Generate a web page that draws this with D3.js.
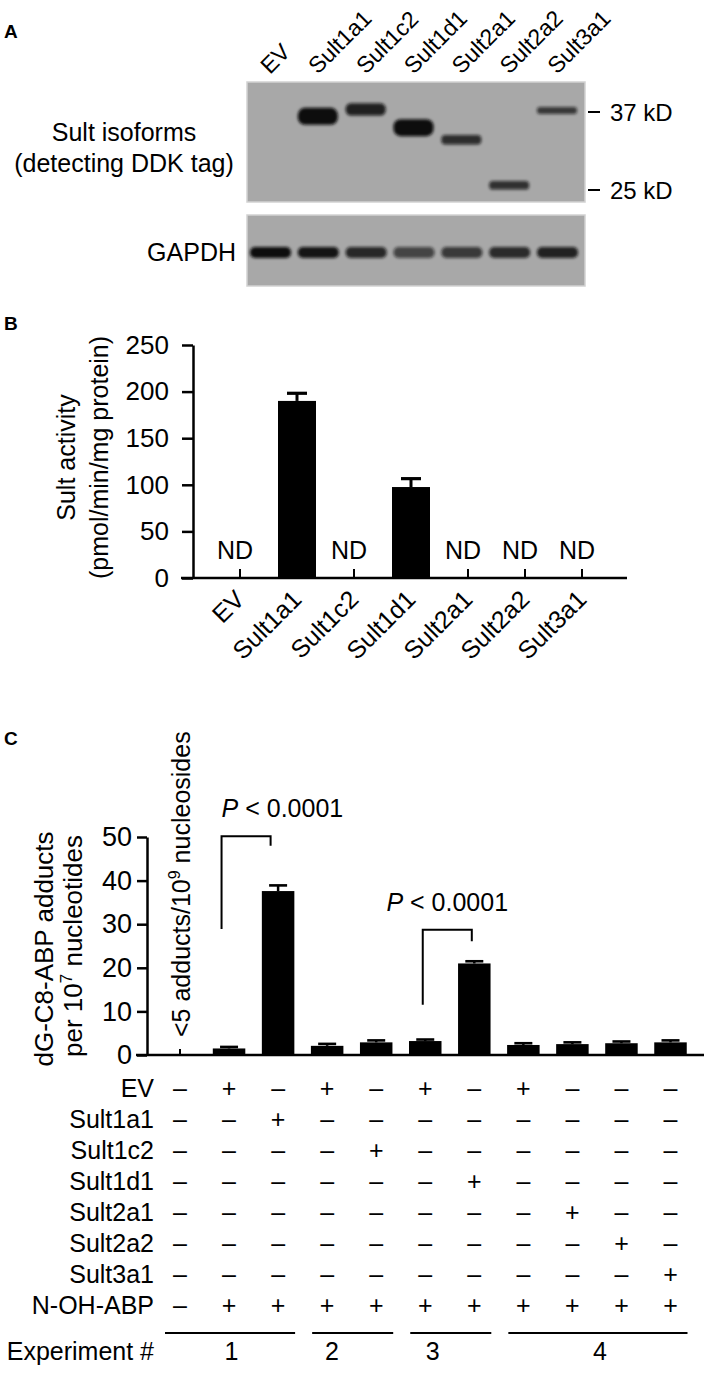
<!DOCTYPE html>
<html><head><meta charset="utf-8">
<script src="https://cdn.jsdelivr.net/npm/d3@7"></script>
<style>
body{margin:0;background:#fff}
svg{display:block}
text{font-family:"Liberation Sans",Arial,Helvetica,sans-serif;fill:#000}
</style>
</head><body>
<svg id="c" width="709" height="1379"></svg>
<script>
// ---------------- DATA ----------------
// Panel A (western blot)
const lanes = ["EV","Sult1a1","Sult1c2","Sult1d1","Sult2a1","Sult2a2","Sult3a1"];
const ddkBandKDa = [null, 36.2, 37.5, 34.2, 32.2, 25.6, 37.3];
const ddkBandSignal = [0, 1.0, 0.72, 1.0, 0.55, 0.5, 0.4];
const gapdhSignal = [1.0, 0.95, 0.82, 0.62, 0.7, 0.8, 0.86];
const markerKDa = [37, 25];
const markerLabels = ["37 kD", "25 kD"];

// Panel B (Sult activity)
const bCategories = ["EV","Sult1a1","Sult1c2","Sult1d1","Sult2a1","Sult2a2","Sult3a1"];
const bActivity = [null, 190, null, 97.6, null, null, null];
const bError = [null, 8.2, null, 9, null, null, null];
const bTicks = [0, 50, 100, 150, 200, 250];
const ndLabel = "ND";

// Panel C (adducts)
const cAdducts = [null, 1.5, 37.6, 2.1, 2.9, 3.2, 21.0, 2.3, 2.5, 2.7, 2.9];
const cError = [null, 0.35, 1.3, 0.45, 0.45, 0.35, 0.5, 0.4, 0.4, 0.4, 0.45];
const cTicks = [0, 10, 20, 30, 40, 50];
const treatmentRows = ["EV","Sult1a1","Sult1c2","Sult1d1","Sult2a1","Sult2a2","Sult3a1","N-OH-ABP"];
const treatmentMatrix = [
  "-+-+-+-+---",
  "--+--------",
  "----+------",
  "------+----",
  "--------+--",
  "---------+-",
  "----------+",
  "-++++++++++"
];
const experimentGroups = [[0,2],[3,4],[5,6],[7,10]];
const experimentLabels = ["1","2","3","4"];
const experimentLabelAt = [1.05, 3.1, 5.15, 8.56];
const comparisons = [
  {from:1, to:2, top:50.2, leftEnd:28.9, rightEnd:48.0, label:"< 0.0001"},
  {from:5, to:6, top:28.7, leftEnd:11.5, rightEnd:26.1, label:"< 0.0001"}
];
const belowDetection = ["<5 adducts/10", "9", " nucleosides"];

// ---------------- DRAW ----------------
const svg = d3.select("#c");
const defs = svg.append("defs");
defs.append("filter").attr("id","blur")
  .attr("x","-30%").attr("y","-80%").attr("width","160%").attr("height","260%")
  .append("feGaussianBlur").attr("stdDeviation",1.5);

function panelLetter(t, y){
  svg.append("text").attr("x",4).attr("y",y).attr("font-size",19).attr("font-weight","bold").text(t);
}

// ===== Panel A =====
panelLetter("A", 38);
const gA = svg.append("g");
const laneX = d3.scalePoint().domain(lanes).range([270, 557]);
const kda = d3.scaleLog().domain([37,25]).range([112,190]);
const blotX = [247, 585];
const blots = [[82,202],[215,286]];
blots.forEach(b=>{
  gA.append("rect").attr("x",blotX[0]).attr("y",b[0]).attr("width",blotX[1]-blotX[0]).attr("height",b[1]-b[0])
    .attr("fill","#a8a8a8").attr("stroke","#d2d2d2").attr("stroke-width",1.5);
});
const thick = d3.scaleLinear().domain([0.4,1]).range([7,17]);
const dark = d3.scaleLinear().domain([0.4,1]).range([0.72,1]);
const ddk = lanes.map((l,i)=>({lane:l, k:ddkBandKDa[i], s:ddkBandSignal[i]})).filter(d=>d.k);
gA.selectAll(".ddk").data(ddk).join("rect").attr("class","ddk")
  .attr("x",d=>laneX(d.lane)-20).attr("width",40)
  .attr("y",d=>kda(d.k)-thick(d.s)/2).attr("height",d=>thick(d.s))
  .attr("rx",d=>thick(d.s)/2.4)
  .attr("fill","#0d0d0d").attr("opacity",d=>dark(d.s)).attr("filter","url(#blur)");
const gapY = (blots[1][0]+blots[1][1])/2 + 2;
const gOp = d3.scaleLinear().domain([0.6,1]).range([0.62,1]);
gA.selectAll(".gap").data(lanes.map((l,i)=>({lane:l, s:gapdhSignal[i]}))).join("rect").attr("class","gap")
  .attr("x",d=>laneX(d.lane)-20).attr("width",41)
  .attr("y",gapY-5.5).attr("height",11).attr("rx",5)
  .attr("fill","#101010").attr("opacity",d=>gOp(d.s)).attr("filter","url(#blur)");
// markers
markerKDa.forEach((m,i)=>{
  gA.append("line").attr("x1",588).attr("x2",600).attr("y1",kda(m)).attr("y2",kda(m)).attr("stroke","#000").attr("stroke-width",2);
  gA.append("text").attr("x",610).attr("y",kda(m)+8.5).attr("font-size",24).text(markerLabels[i]);
});
// lane labels
gA.selectAll(".lane").data(lanes).join("text").attr("class","lane")
  .attr("transform",d=>`translate(${laneX(d)},75) rotate(-45)`)
  .attr("font-size",23).text(d=>d);
gA.append("text").attr("x",124).attr("y",141).attr("text-anchor","middle").attr("font-size",25).text("Sult isoforms");
gA.append("text").attr("x",124).attr("y",172).attr("text-anchor","middle").attr("font-size",25).text("(detecting DDK tag)");
gA.append("text").attr("x",236).attr("y",gapY+8).attr("text-anchor","end").attr("font-size",25).text("GAPDH");

// ===== Panel B =====
panelLetter("B", 330);
const gB = svg.append("g");
const xB = d3.scalePoint().domain(bCategories).range([240, 582]);
const yB = d3.scaleLinear().domain([0,250]).range([578,345]);
const axB = 193;
const yAxB = gB.append("g").attr("transform",`translate(${axB},0)`)
  .call(d3.axisLeft(yB).tickValues(bTicks).tickSize(11).tickPadding(13).tickSizeOuter(0));
yAxB.selectAll("path,line").attr("stroke","#000").attr("stroke-width",2.5);
yAxB.selectAll("text").attr("font-size",26).attr("font-family",null).attr("fill","#000");
gB.append("line").attr("x1",axB-12).attr("x2",627).attr("y1",yB(0)).attr("y2",yB(0)).attr("stroke","#000").attr("stroke-width",2.5);
gB.selectAll(".xt").data(bCategories).join("line").attr("class","xt")
  .attr("x1",d=>xB(d)).attr("x2",d=>xB(d)).attr("y1",yB(0)).attr("y2",yB(0)-9).attr("stroke","#000").attr("stroke-width",2);
const bData = bCategories.map((c,i)=>({c, v:bActivity[i], e:bError[i]}));
gB.selectAll(".bar").data(bData.filter(d=>d.v!=null)).join("rect").attr("class","bar")
  .attr("x",d=>xB(d.c)-19).attr("width",38).attr("y",d=>yB(d.v)).attr("height",d=>yB(0)-yB(d.v)).attr("fill","#000");
bData.filter(d=>d.v!=null).forEach(d=>{
  gB.append("line").attr("x1",xB(d.c)).attr("x2",xB(d.c)).attr("y1",yB(d.v)).attr("y2",yB(d.v+d.e)).attr("stroke","#000").attr("stroke-width",3);
  gB.append("line").attr("x1",xB(d.c)-10).attr("x2",xB(d.c)+10).attr("y1",yB(d.v+d.e)).attr("y2",yB(d.v+d.e)).attr("stroke","#000").attr("stroke-width",3.2);
});
gB.selectAll(".nd").data(bData.filter(d=>d.v==null)).join("text").attr("class","nd")
  .attr("x",d=>xB(d.c)-5).attr("y",yB(0)-19).attr("text-anchor","middle").attr("font-size",25).text(ndLabel);
gB.selectAll(".xl").data(bCategories).join("text").attr("class","xl")
  .attr("transform",d=>`translate(${xB(d)+6},${yB(0)+23}) rotate(-45)`)
  .attr("text-anchor","end").attr("font-size",25).text(d=>d);
const ymB = (yB(0)+yB(250))/2 - 4;
gB.append("text").attr("transform",`translate(75,${ymB}) rotate(-90)`).attr("text-anchor","middle").attr("font-size",25).text("Sult activity");
gB.append("text").attr("transform",`translate(108,${ymB}) rotate(-90)`).attr("text-anchor","middle").attr("font-size",25).text("(pmol/min/mg protein)");

// ===== Panel C =====
panelLetter("C", 745);
const gC = svg.append("g");
const cols = d3.range(cAdducts.length);
const xC = d3.scalePoint().domain(cols).range([180, 670.5]);
const xCf = d3.scaleLinear().domain([0, cols.length-1]).range(xC.range());
const yC = d3.scaleLinear().domain([0,50]).range([1055, 837]);
const axC = 147;
const yAxC = gC.append("g").attr("transform",`translate(${axC},0)`)
  .call(d3.axisLeft(yC).tickValues(cTicks).tickSize(10).tickPadding(5).tickSizeOuter(0));
yAxC.selectAll("path,line").attr("stroke","#000").attr("stroke-width",2.5);
yAxC.selectAll("text").attr("font-size",27).attr("font-family",null).attr("fill","#000");
gC.append("line").attr("x1",axC-11).attr("x2",704).attr("y1",yC(0)).attr("y2",yC(0)).attr("stroke","#000").attr("stroke-width",2.5);
gC.selectAll(".xt").data(cols).join("line").attr("class","xt")
  .attr("x1",d=>xC(d)).attr("x2",d=>xC(d)).attr("y1",yC(0)).attr("y2",yC(0)-6).attr("stroke","#000").attr("stroke-width",2);
const cData = cols.map(i=>({i, v:cAdducts[i], e:cError[i]})).filter(d=>d.v!=null);
gC.selectAll(".bar").data(cData).join("rect").attr("class","bar")
  .attr("x",d=>xC(d.i)-16.25).attr("width",32.5).attr("y",d=>yC(d.v)).attr("height",d=>yC(0)-yC(d.v)).attr("fill","#000");
cData.forEach(d=>{
  gC.append("line").attr("x1",xC(d.i)).attr("x2",xC(d.i)).attr("y1",yC(d.v)).attr("y2",yC(d.v+d.e)).attr("stroke","#000").attr("stroke-width",2.5);
  gC.append("line").attr("x1",xC(d.i)-9).attr("x2",xC(d.i)+9).attr("y1",yC(d.v+d.e)).attr("y2",yC(d.v+d.e)).attr("stroke","#000").attr("stroke-width",2.6);
});
// below detection label
const bd = gC.append("text").attr("transform",`translate(190,${yC(0)-18}) rotate(-90)`).attr("font-size",25);
bd.append("tspan").text(belowDetection[0]);
bd.append("tspan").attr("dy",-10).attr("font-size",16).text(belowDetection[1]);
bd.append("tspan").attr("dy",10).text(belowDetection[2]);
// comparisons
const legOffset = [-7.5, -2.5];
comparisons.forEach((c,k)=>{
  const lx = xC(c.from)+legOffset[k], rx = xC(c.to)+legOffset[k];
  gC.append("path").attr("d",`M${lx},${yC(c.leftEnd)}V${yC(c.top)}H${rx}V${yC(c.rightEnd)}`)
    .attr("fill","none").attr("stroke","#000").attr("stroke-width",2);
  const t = gC.append("text").attr("font-size",25)
    .attr("x", k===0 ? lx : (lx+rx)/2).attr("y",yC(c.top+4.3))
    .attr("text-anchor", k===0 ? "start" : "middle");
  t.append("tspan").attr("font-style","italic").text("P");
  t.append("tspan").text(" " + c.label);
});
// y title
const ymC = (yC(0)+yC(50))/2;
gC.append("text").attr("transform",`translate(53,${ymC+3}) rotate(-90)`).attr("text-anchor","middle").attr("font-size",26).text("dG-C8-ABP adducts");
const t2 = gC.append("text").attr("transform",`translate(82,${ymC}) rotate(-90)`).attr("text-anchor","middle").attr("font-size",26);
t2.append("tspan").text("per 10");
t2.append("tspan").attr("dy",-10).attr("font-size",17).text("7");
t2.append("tspan").attr("dy",10).text(" nucleotides");
// treatment table
const rowY = d3.scalePoint().domain(treatmentRows).range([1097, 1314]);
gC.selectAll(".rl").data(treatmentRows).join("text").attr("class","rl")
  .attr("x",154).attr("y",d=>rowY(d)).attr("text-anchor","end").attr("font-size",25).text(d=>d);
treatmentRows.forEach((r,ri)=>{
  gC.selectAll(".s"+ri).data(treatmentMatrix[ri].split("")).join("text")
    .attr("x",(d,ci)=>xC(ci)).attr("y",rowY(r)).attr("text-anchor","middle").attr("font-size",25)
    .text(d=>d==="+"?"+":"\u2013");
});
experimentGroups.forEach((g,k)=>{
  gC.append("line").attr("x1",xC(g[0])-15).attr("x2",xC(g[1])+17).attr("y1",1333).attr("y2",1333).attr("stroke","#000").attr("stroke-width",2);
  gC.append("text").attr("x",xCf(experimentLabelAt[k])).attr("y",1360).attr("text-anchor","middle").attr("font-size",25).text(experimentLabels[k]);
});
gC.append("text").attr("x",154).attr("y",1360).attr("text-anchor","end").attr("font-size",25).text("Experiment #");
</script>
</body></html>
